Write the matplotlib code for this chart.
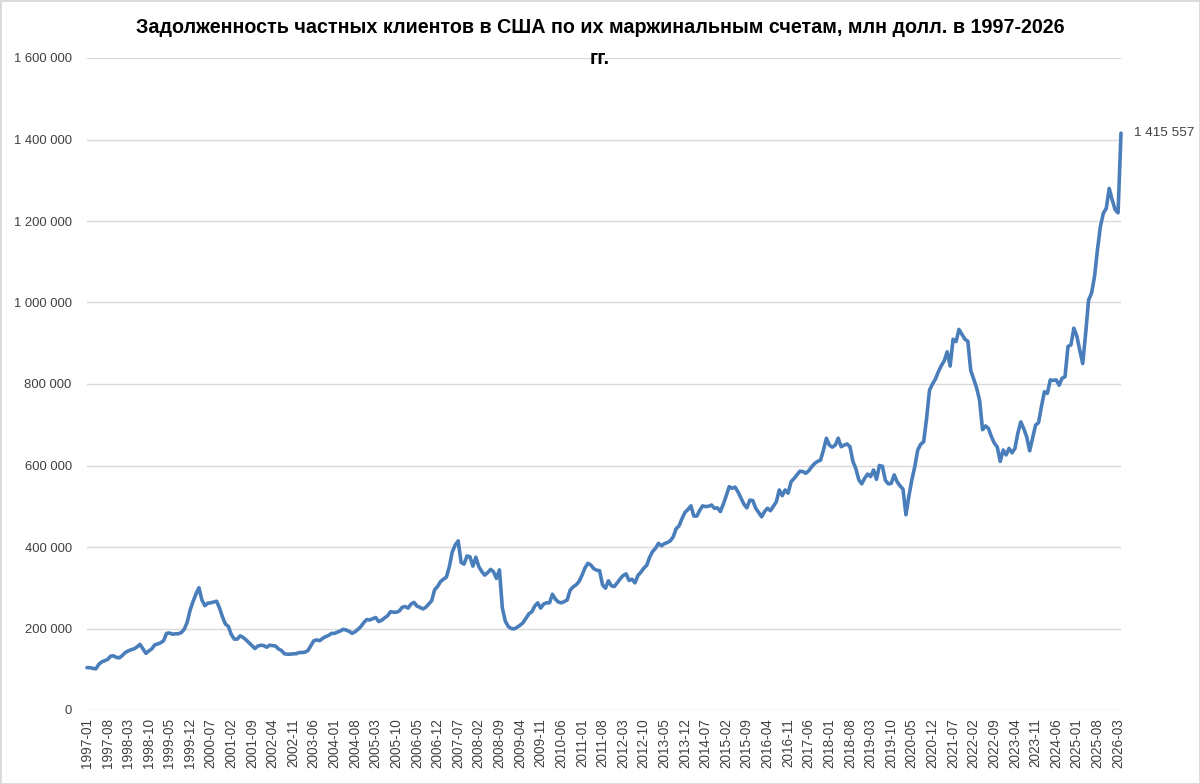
import numpy as np
import pandas as pd
import matplotlib
matplotlib.use("Agg")
import matplotlib.pyplot as plt
from matplotlib.ticker import FuncFormatter
from matplotlib.patches import Rectangle

plt.rcParams["font.family"] = ["Liberation Sans", "DejaVu Sans"]

# месяцы 1997-01 ... 2026-04
months = pd.period_range("1997-01", "2026-04", freq="M").strftime("%Y-%m").tolist()

# задолженность, млн долл. (по годам)
debt = [
    104000, 104000, 102000, 101000, 112000, 118000, 121000, 124000, 132000, 133000, 129000, 128000,  # 1997
    134000, 141000, 145000, 148000, 150000, 155000, 161000, 150000, 139000, 145000, 150000, 160000,  # 1998
    162000, 165000, 170000, 188000, 189000, 186000, 187000, 187000, 190000, 198000, 215000, 245000,  # 1999
    266000, 285000, 300000, 270000, 256000, 262000, 263000, 265000, 267000, 250000, 228000, 211000,  # 2000
    205000, 185000, 174000, 174000, 182000, 178000, 172000, 165000, 158000, 151000, 157000, 159000,  # 2001
    158000, 154000, 159000, 158000, 157000, 150000, 146000, 138000, 137000, 137000, 138000, 138000,  # 2002
    141000, 141000, 142000, 146000, 158000, 170000, 172000, 170000, 176000, 180000, 183000, 188000,  # 2003
    188000, 191000, 194000, 198000, 196000, 193000, 188000, 192000, 198000, 205000, 215000, 222000,  # 2004
    221000, 224000, 227000, 217000, 220000, 226000, 231000, 241000, 240000, 240000, 243000, 252000,  # 2005
    254000, 250000, 260000, 264000, 255000, 252000, 248000, 252000, 260000, 268000, 295000, 303000,  # 2006
    315000, 321000, 326000, 352000, 388000, 405000, 415000, 362000, 358000, 378000, 376000, 353000,  # 2007
    375000, 352000, 340000, 331000, 337000, 345000, 339000, 323000, 344000, 250000, 218000, 205000,  # 2008
    200000, 199000, 203000, 208000, 214000, 225000, 236000, 241000, 255000, 263000, 250000, 260000,  # 2009
    263000, 263000, 284000, 272000, 265000, 263000, 266000, 270000, 294000, 302000, 307000, 315000,  # 2010
    330000, 348000, 360000, 356000, 347000, 343000, 342000, 307000, 299000, 317000, 305000, 303000,  # 2011
    312000, 322000, 330000, 334000, 318000, 321000, 312000, 330000, 338000, 348000, 355000, 375000,  # 2012
    389000, 397000, 409000, 403000, 408000, 411000, 415000, 425000, 445000, 452000, 470000, 485000,  # 2013
    492000, 501000, 476000, 476000, 490000, 501000, 499000, 500000, 503000, 495000, 496000, 487000,  # 2014
    505000, 526000, 548000, 544000, 547000, 535000, 520000, 505000, 496000, 515000, 514000, 495000,  # 2015
    485000, 474000, 487000, 495000, 489000, 500000, 511000, 540000, 526000, 540000, 532000, 560000,  # 2016
    568000, 577000, 586000, 585000, 581000, 587000, 597000, 605000, 610000, 613000, 638000, 667000,  # 2017
    650000, 645000, 650000, 667000, 646000, 650000, 653000, 646000, 610000, 592000, 565000, 555000,  # 2018
    569000, 579000, 573000, 589000, 566000, 600000, 598000, 564000, 555000, 556000, 577000, 560000,  # 2019
    550000, 542000, 479000, 525000, 565000, 597000, 638000, 652000, 658000, 715000, 785000, 800000,  # 2020
    812000, 830000, 845000, 857000, 879000, 844000, 910000, 904000, 934000, 922000, 910000, 905000,  # 2021
    833000, 812000, 790000, 760000, 688000, 697000, 691000, 671000, 655000, 645000, 610000, 638000,  # 2022
    626000, 642000, 631000, 642000, 680000, 707000, 690000, 670000, 636000, 668000, 699000, 705000,  # 2023
    745000, 781000, 777000, 810000, 809000, 810000, 797000, 814000, 818000, 892000, 896000, 937000,  # 2024
    918000, 883000, 850000, 924000, 1006000, 1023000, 1063000, 1129000, 1186000, 1219000, 1231000, 1280000,  # 2025
    1252000, 1228000, 1220000, 1415557,  # 2026
]

title = "Задолженность частных клиентов в США по их маржинальным счетам, млн долл. в 1997-2026\nгг."

fig = plt.figure(figsize=(12, 7.84), dpi=100)
ax = fig.add_axes([87 / 1200, 74 / 784, 1034 / 1200, 652 / 784])

x = np.arange(len(debt))
ax.plot(x, debt, color="#4a7ebb", lw=2.6, solid_joinstyle="round",
        solid_capstyle="round", clip_on=False, zorder=3)

ax.set_xlim(0, len(debt) - 1)
ax.set_ylim(0, 1_600_000)
ax.set_yticks(range(0, 1_600_001, 200_000))
ax.yaxis.set_major_formatter(FuncFormatter(lambda v, p: f"{v:,.0f}".replace(",", " ")))
ax.set_xticks(x[::7])
ax.set_xticklabels(months[::7], rotation=90)

ax.grid(axis="y", color="#d9d9d9", lw=1)
ax.set_axisbelow(True)
for s in ax.spines.values():
    s.set_visible(False)
ax.tick_params(length=0)
ax.tick_params(axis="y", pad=11, labelsize=9.4, labelcolor="#404040")
ax.tick_params(axis="x", pad=6, labelsize=9.8, labelcolor="#404040")

# подпись последнего значения
ax.annotate(f"{debt[-1]:,}".replace(",", " "), xy=(x[-1], debt[-1]),
            xytext=(9.5, 0), textcoords="offset points",
            ha="left", va="center", fontsize=9.7, color="#404040")

fig.text(0.5, 1 - 43 / 784, title, ha="center", va="center",
         fontsize=14.2, fontweight="bold", linespacing=1.85)

fig.patches.append(Rectangle((0, 0), 1, 1, transform=fig.transFigure,
                             fill=False, edgecolor="#d9d9d9", lw=2))

fig.savefig("out.png", dpi=100)
plt.close(fig)
